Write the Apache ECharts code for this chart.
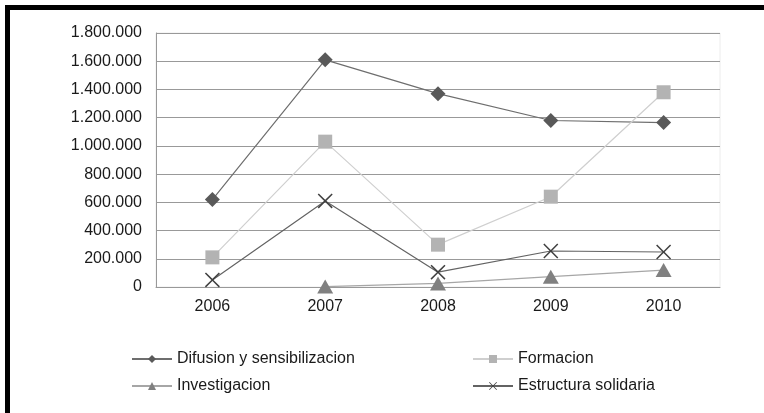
<!DOCTYPE html>
<html>
<head>
<meta charset="utf-8">
<script src="https://cdn.jsdelivr.net/npm/echarts@6/dist/echarts.min.js"></script>
<style>
  html, body { margin: 0; padding: 0; background: #fff; }
  #frame {
    position: absolute; left: 5px; top: 5px; width: 759px; height: 408px;
    border-top: 5px solid #000; border-left: 5px solid #000; box-sizing: border-box;
  }
  #chart { position: absolute; left: 0; top: 0; width: 764px; height: 413px; }
</style>
</head>
<body>
<div id="frame"></div>
<div id="chart"></div>
<script>
var years = ['2006', '2007', '2008', '2009', '2010'];
var difusion = [620000, 1610000, 1370000, 1180000, 1165000];
var formacion = [210000, 1030000, 300000, 640000, 1380000];
var investigacion = [null, 3000, 25000, 73000, 120000];
var estructura = [50000, 610000, 105000, 255000, 248000];

var crossPath = 'path://M0,1 L1,0 L7,6 L13,0 L14,1 L8,7 L14,13 L13,14 L7,8 L1,14 L0,13 L6,7 Z';

function formatMiles(v) {
  return String(v).replace(/\B(?=(\d{3})+(?!\d))/g, '.');
}

var chartDom = document.getElementById('chart');
var myChart = echarts.init(chartDom);
var option;

var legendText = { color: '#1a1a1a', fontSize: 16, fontFamily: 'Liberation Sans, Arial, sans-serif' };

option = {
  animation: false,
  grid: {
    left: 156,
    right: 44,
    top: 33,
    bottom: 126,
    show: true,
    borderColor: '#ececec',
    borderWidth: 1
  },
  legend: [
    {
      orient: 'vertical',
      left: 131,
      top: 351,
      padding: 0,
      itemWidth: 40,
      itemHeight: 10,
      itemGap: 11,
      textStyle: legendText,
      data: ['Difusion y sensibilizacion', 'Investigacion']
    },
    {
      orient: 'vertical',
      left: 472,
      top: 351,
      padding: 0,
      itemWidth: 40,
      itemHeight: 10,
      itemGap: 11,
      textStyle: legendText,
      data: ['Formacion', 'Estructura solidaria']
    }
  ],
  xAxis: {
    type: 'category',
    data: years,
    boundaryGap: true,
    axisLine: { lineStyle: { color: '#999' } },
    axisTick: { show: false },
    axisLabel: {
      margin: 12,
      color: '#1a1a1a',
      fontSize: 16,
      fontFamily: 'Liberation Sans, Arial, sans-serif'
    }
  },
  yAxis: {
    type: 'value',
    min: 0,
    max: 1800000,
    interval: 200000,
    axisLine: { show: true, lineStyle: { color: '#999' } },
    axisTick: { show: false },
    splitLine: { lineStyle: { color: '#999', width: 1 } },
    axisLabel: {
      margin: 14,
      color: '#1a1a1a',
      fontSize: 16,
      fontFamily: 'Liberation Sans, Arial, sans-serif',
      formatter: formatMiles
    }
  },
  series: [
    {
      name: 'Difusion y sensibilizacion',
      type: 'line',
      data: difusion,
      symbol: 'diamond',
      symbolSize: 15,
      itemStyle: { color: '#595959' },
      lineStyle: { color: '#6e6e6e', width: 1.2 }
    },
    {
      name: 'Formacion',
      type: 'line',
      data: formacion,
      symbol: 'rect',
      symbolSize: 14,
      itemStyle: { color: '#b3b3b3' },
      lineStyle: { color: '#cfcfcf', width: 1.2 }
    },
    {
      name: 'Investigacion',
      type: 'line',
      data: investigacion,
      symbol: 'triangle',
      symbolSize: [16, 14],
      itemStyle: { color: '#808080' },
      lineStyle: { color: '#a6a6a6', width: 1.2 }
    },
    {
      name: 'Estructura solidaria',
      type: 'line',
      data: estructura,
      symbol: crossPath,
      symbolSize: 15,
      itemStyle: { color: '#404040' },
      lineStyle: { color: '#636363', width: 1.2 }
    }
  ]
};

myChart.setOption(option);
</script>
</body>
</html>
